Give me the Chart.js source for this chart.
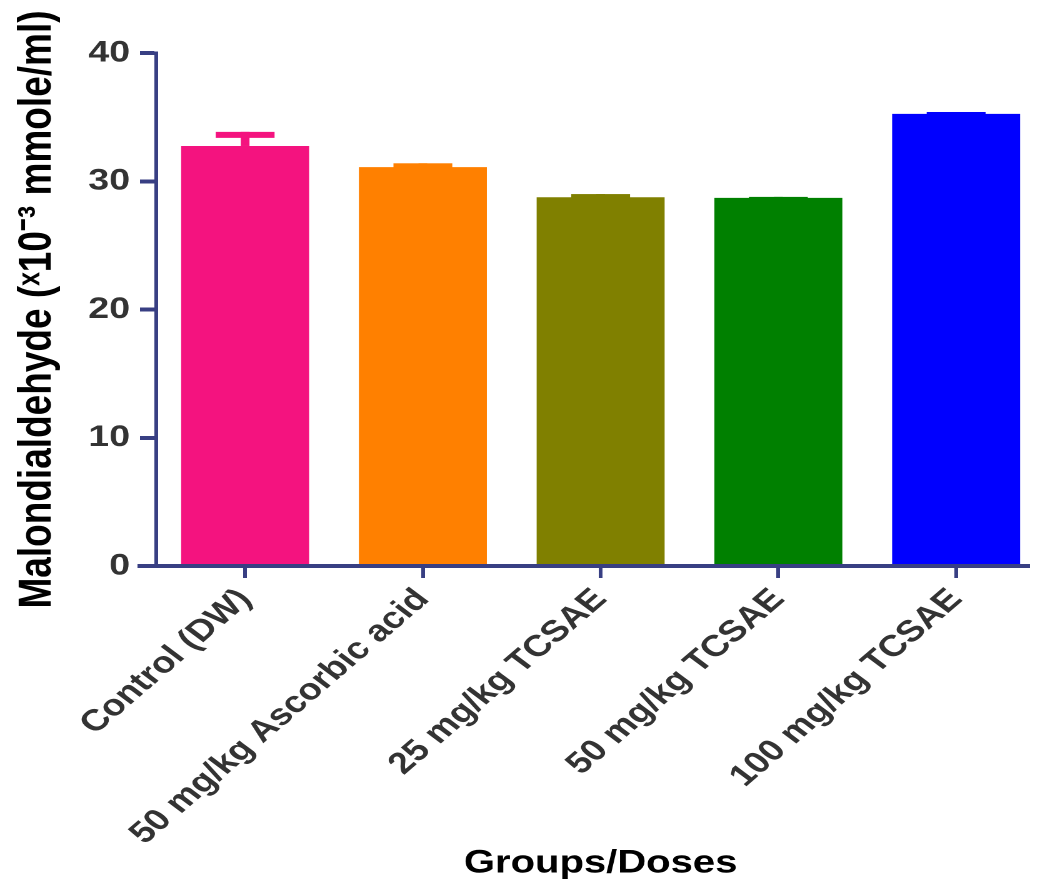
<!DOCTYPE html>
<html>
<head>
<meta charset="utf-8">
<script src="https://cdn.jsdelivr.net/npm/chart.js@4"></script>
<style>
html, body { margin: 0; padding: 0; background: #fff; overflow: hidden; }
/* the original figure is stretched horizontally */
#wrap { width: 836px; height: 890px; transform: scaleX(1.25); transform-origin: 0 0; }
</style>
</head>
<body>
<div id="wrap"><canvas id="mdaChart" width="836" height="890"></canvas></div>
<script>
// ==========================================
// data
// ==========================================
const groups = ["Control (DW)", "50 mg/kg Ascorbic acid", "25 mg/kg TCSAE", "50 mg/kg TCSAE", "100 mg/kg TCSAE"];
const mdaMean = [32.75, 31.1, 28.75, 28.7, 35.25];
const mdaSem = [1.1, 0.3, 0.25, 0.08, 0.15];
const yTicks = [0, 10, 20, 30, 40];
const barColors = ["#F4137F", "#FF8000", "#808000", "#008000", "#0000FF"];

const axisColor = "#383F83";
const fontFamily = "'Liberation Sans', Arial, sans-serif";

// upper error bars (same colour as the bar)
const errorBars = {
    id: "errorBars",
    afterDatasetsDraw(chart) {
        const c = chart.ctx;
        const y = chart.scales.y;
        chart.getDatasetMeta(0).data.forEach((bar, i) => {
            const top = y.getPixelForValue(mdaMean[i] + mdaSem[i]);
            const half = bar.width * 0.23;
            c.save();
            c.fillStyle = barColors[i];
            c.fillRect(bar.x - half, top, half * 2, 6);
            c.fillRect(bar.x - 3.5, top, 7, bar.y - top);
            c.restore();
        });
    }
};

// x axis line, drawn over the bar bases, sticking out left of the y axis
const xAxisLine = {
    id: "xAxisLine",
    afterDatasetsDraw(chart) {
        const c = chart.ctx;
        const a = chart.chartArea;
        c.save();
        c.strokeStyle = axisColor;
        c.lineWidth = 4;
        c.beginPath();
        c.moveTo(a.left - 15, a.bottom);
        c.lineTo(a.right - 12, a.bottom);
        c.stroke();
        c.restore();
    }
};

new Chart(document.getElementById("mdaChart"), {
    type: "bar",
    data: {
        labels: groups,
        datasets: [{
            data: mdaMean,
            backgroundColor: barColors,
            borderWidth: 0,
            categoryPercentage: 1,
            barPercentage: 0.72
        }]
    },
    options: {
        responsive: false,
        devicePixelRatio: 2,
        animation: false,
        layout: { padding: { top: 53, right: 0, bottom: 0, left: 0 } },
        plugins: {
            legend: { display: false },
            tooltip: { enabled: false }
        },
        scales: {
            x: {
                border: { display: false },
                grid: {
                    offset: false,
                    drawOnChartArea: false,
                    drawTicks: true,
                    tickLength: 12,
                    lineWidth: 3,
                    color: axisColor
                },
                ticks: {
                    autoSkip: false,
                    minRotation: 47,
                    maxRotation: 47,
                    padding: 4,
                    color: "#333333",
                    font: { family: fontFamily, size: 30, weight: "bold" }
                },
                title: {
                    display: true,
                    text: "Groups/Doses",
                    color: "#000000",
                    padding: { top: 0, bottom: 7 },
                    font: { family: fontFamily, size: 32, weight: "bold" }
                },
                afterFit(scale) {
                    scale.height = 324;
                    scale.paddingLeft = 0;
                    scale.paddingRight = 0;
                }
            },
            y: {
                min: 0,
                max: 40,
                afterBuildTicks(scale) {
                    scale.ticks = yTicks.map(v => ({ value: v }));
                },
                border: { display: true, color: axisColor, width: 3 },
                grid: {
                    drawOnChartArea: false,
                    drawTicks: true,
                    tickLength: 13,
                    lineWidth: 4,
                    color: axisColor
                },
                ticks: {
                    padding: 8,
                    color: "#333333",
                    font: { family: fontFamily, size: 30, weight: "bold" }
                },
                title: {
                    display: true,
                    text: "Malondialdehyde (ˣ10⁻³ mmole/ml)",
                    color: "#000000",
                    padding: { top: 8, bottom: 0 },
                    font: { family: fontFamily, size: 37, weight: "bold" }
                },
                afterFit(scale) {
                    scale.width = 125;
                }
            }
        }
    },
    plugins: [errorBars, xAxisLine]
});
</script>
</body>
</html>
